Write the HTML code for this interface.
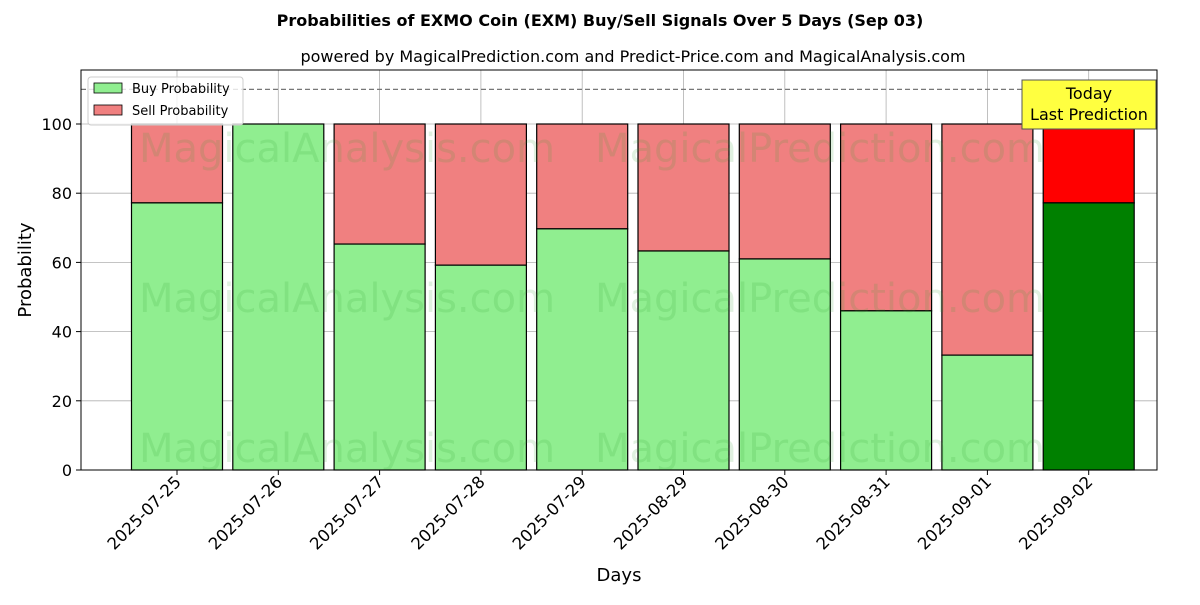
<!DOCTYPE html>
<html><head><meta charset="utf-8"><style>
body{margin:0;background:#fff;font-family:"Liberation Sans","DejaVu Sans",sans-serif}
</style></head><body>
<svg id="chart" width="1200" height="600" xmlns="http://www.w3.org/2000/svg" font-family="DejaVu Sans, Liberation Sans, sans-serif">
<rect width="1200" height="600" fill="#fff"/>
<text x="600" y="26" text-anchor="middle" font-size="16" font-weight="bold">Probabilities of EXMO Coin (EXM) Buy/Sell Signals Over 5 Days (Sep 03)</text>
<text x="633" y="62" text-anchor="middle" font-size="16">powered by MagicalPrediction.com and Predict-Price.com and MagicalAnalysis.com</text>
<g id="grid"></g>
<g id="bars"></g>
<g id="wm" font-size="40" fill="#2ca02c" fill-opacity="0.15" text-anchor="middle">
<text x="347" y="162">MagicalAnalysis.com</text>
<text x="820" y="162">MagicalPrediction.com</text>
<text x="347" y="312">MagicalAnalysis.com</text>
<text x="820" y="312">MagicalPrediction.com</text>
<text x="347" y="462">MagicalAnalysis.com</text>
<text x="820" y="462">MagicalPrediction.com</text>
</g>
<line x1="81" x2="1157" y1="89.4" y2="89.4" stroke="#777" stroke-dasharray="5,3" stroke-width="1.2"/>
<rect x="81" y="70" width="1076" height="400" fill="none" stroke="#000" stroke-width="1"/>
<g id="axes"></g>
<text transform="translate(31,270) rotate(-90)" text-anchor="middle" font-size="18">Probability</text>
<text x="619" y="581" text-anchor="middle" font-size="18">Days</text>
<g>
<rect x="88" y="77" width="155" height="48" fill="#fff" fill-opacity="0.8" stroke="#ccc" rx="3"/>
<rect x="94" y="83" width="28" height="10" fill="#90ee90" stroke="#000" stroke-width="0.8"/>
<text x="132" y="93" font-size="13">Buy Probability</text>
<rect x="94" y="105" width="28" height="10" fill="#f08080" stroke="#000" stroke-width="0.8"/>
<text x="132" y="115" font-size="13">Sell Probability</text>
</g>
<g>
<rect x="1022" y="80" width="134" height="49" fill="#ffff40" stroke="#555"/>
<text x="1089" y="99" text-anchor="middle" font-size="16">Today</text>
<text x="1089" y="120" text-anchor="middle" font-size="16">Last Prediction</text>
</g>
</svg>
<script>
const categories=["2025-07-25","2025-07-26","2025-07-27","2025-07-28","2025-07-29","2025-08-29","2025-08-30","2025-08-31","2025-09-01","2025-09-02"];
const buyValues=[77.2,100,65.3,59.2,69.7,63.3,61.0,46.0,33.2,77.2];
const yTicks=[0,20,40,60,80,100];
const NS="http://www.w3.org/2000/svg";
const yS=v=>470-v*3.46;
const xS=i=>177+i*101.3;
const bw=91;
function mk(tag,attrs,parent){const e=document.createElementNS(NS,tag);for(const k in attrs)e.setAttribute(k,attrs[k]);parent.appendChild(e);return e;}
const grid=document.getElementById('grid'),bars=document.getElementById('bars'),axes=document.getElementById('axes');
yTicks.forEach(t=>{
  const g=mk('line',{x1:81,x2:1157,y1:yS(t),y2:yS(t),stroke:'#b0b0b0','stroke-width':0.8},grid);
  
  
  mk('line',{x1:76,x2:81,y1:yS(t),y2:yS(t),stroke:'#000'},axes);
  const tx=mk('text',{x:72,y:yS(t)+6,'text-anchor':'end','font-size':16},axes);
  tx.textContent=t;
  
  
});
categories.forEach((c,i)=>{
  const x=xS(i);
  const gl=mk('line',{x1:x,x2:x,y1:70,y2:470,stroke:'#b0b0b0','stroke-width':0.8},grid);
  
  
  const last=i===categories.length-1;
  const b=buyValues[i];
  const s=mk('rect',{x:x-bw/2,y:yS(100),width:bw,height:yS(b)-yS(100),fill:last?'#ff0000':'#f08080',stroke:'#000','stroke-width':1.2},bars);
  
  
  const r=mk('rect',{x:x-bw/2,y:yS(b),width:bw,height:yS(0)-yS(b),fill:last?'#008000':'#90ee90',stroke:'#000','stroke-width':1.2},bars);
  
  
  mk('line',{x1:x,x2:x,y1:470,y2:475,stroke:'#000'},axes);
  const t=mk('text',{transform:`translate(${x+5},${483}) rotate(-45)`,'text-anchor':'end','font-size':16.5},axes);
  t.textContent=c;
  
  
});
</script>
</body></html>
